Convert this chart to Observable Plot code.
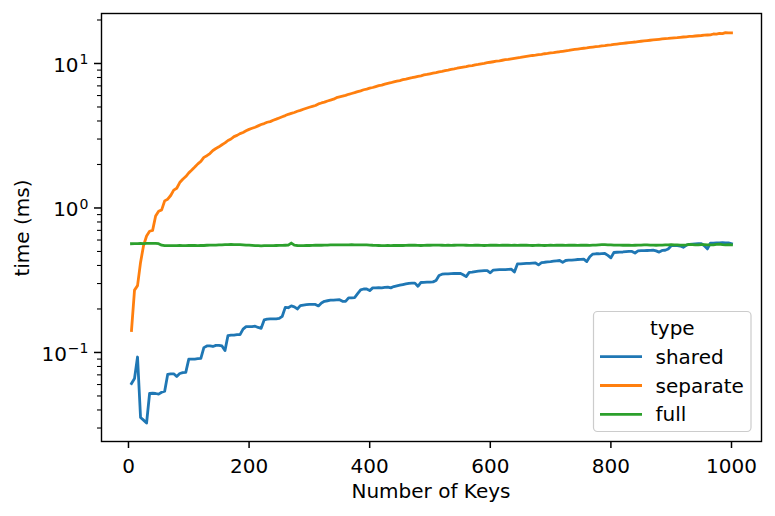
<!DOCTYPE html>
<html><head><meta charset="utf-8">
<script src="https://cdn.jsdelivr.net/npm/d3@7"></script>
<script src="https://cdn.jsdelivr.net/npm/@observablehq/plot@0.6"></script>
<style>
body{margin:0;background:#fff;}
svg{font-family:"DejaVu Sans",sans-serif;}
</style></head><body><div id="chart"></div>
<script>
// Number of keys (sample grid 5..1000, step 5)
const keys = d3.range(5, 1001, 5);
const types = ["shared", "separate", "full"];
const colors = ["#1f77b4", "#ff7f0e", "#2ca02c"];
const xTicks = [0, 200, 400, 600, 800, 1000];
const yMajor = [0.1, 1, 10];
const yMinor = [0.03,0.04,0.05,0.06,0.07,0.08,0.09,0.2,0.3,0.4,0.5,0.6,0.7,0.8,0.9,2,3,4,5,6,7,8,9,20];
const yMajorLabels = ["10^\u22121", "10^0", "10^1"];

const shared = [
0.061,0.066,0.093,0.0355,0.034,0.0325,0.052,0.0522,0.052,0.0515,
0.053,0.054,0.0705,0.0712,0.0712,0.0682,0.0715,0.0725,0.0728,0.0899,
0.090,0.090,0.0905,0.091,0.108,0.111,0.111,0.110,0.112,0.112,
0.111,0.103,0.131,0.132,0.132,0.133,0.133,0.145,0.151,0.151,
0.151,0.152,0.149,0.147,0.168,0.170,0.171,0.171,0.171,0.172,
0.178,0.205,0.204,0.210,0.207,0.200,0.211,0.213,0.214,0.215,
0.215,0.215,0.210,0.220,0.226,0.228,0.230,0.230,0.231,0.232,
0.226,0.226,0.239,0.239,0.240,0.255,0.271,0.275,0.275,0.268,
0.280,0.280,0.281,0.280,0.282,0.283,0.280,0.286,0.289,0.292,
0.295,0.298,0.301,0.302,0.302,0.287,0.305,0.306,0.307,0.307,
0.308,0.315,0.341,0.348,0.350,0.350,0.351,0.352,0.352,0.353,
0.345,0.335,0.358,0.360,0.363,0.365,0.367,0.368,0.369,0.356,
0.372,0.373,0.374,0.374,0.375,0.376,0.377,0.360,0.410,0.411,
0.412,0.413,0.414,0.415,0.416,0.404,0.418,0.421,0.423,0.425,
0.428,0.431,0.433,0.420,0.433,0.435,0.436,0.438,0.440,0.441,
0.442,0.426,0.460,0.480,0.482,0.482,0.483,0.484,0.470,0.452,
0.492,0.494,0.495,0.496,0.498,0.500,0.500,0.488,0.505,0.506,
0.507,0.508,0.509,0.510,0.505,0.495,0.508,0.510,0.520,0.548,
0.550,0.548,0.545,0.535,0.552,0.560,0.563,0.565,0.566,0.566,
0.548,0.521,0.570,0.572,0.574,0.573,0.576,0.574,0.573,0.565
];

const separate = [
0.142,0.27,0.29,0.42,0.55,0.64,0.69,0.70,0.88,0.95,
0.97,1.12,1.15,1.22,1.33,1.37,1.50,1.58,1.65,1.75,
1.83,1.92,2.02,2.10,2.24,2.30,2.38,2.50,2.58,2.65,
2.74,2.82,2.93,3.00,3.12,3.18,3.27,3.33,3.42,3.50,
3.56,3.62,3.70,3.78,3.84,3.92,3.96,4.05,4.12,4.20,
4.28,4.36,4.45,4.52,4.58,4.67,4.74,4.82,4.90,4.98,
5.05,5.12,5.25,5.33,5.40,5.50,5.58,5.66,5.80,5.88,
5.95,6.02,6.12,6.20,6.28,6.38,6.47,6.58,6.65,6.75,
6.82,6.92,7.02,7.08,7.20,7.28,7.36,7.46,7.55,7.62,
7.72,7.80,7.90,7.97,8.06,8.15,8.22,8.33,8.40,8.49,
8.58,8.66,8.76,8.82,8.92,9.00,9.10,9.17,9.27,9.35,
9.44,9.50,9.61,9.68,9.78,9.85,9.95,10.02,10.12,10.20,
10.28,10.37,10.44,10.53,10.62,10.68,10.78,10.86,10.95,11.02,
11.12,11.20,11.28,11.36,11.42,11.52,11.58,11.68,11.74,11.84,
11.90,12.00,12.06,12.15,12.24,12.32,12.42,12.50,12.58,12.66,
12.75,12.82,12.92,13.00,13.08,13.15,13.24,13.30,13.40,13.46,
13.55,13.62,13.70,13.78,13.86,13.94,14.02,14.08,14.18,14.25,
14.32,14.40,14.48,14.55,14.62,14.70,14.78,14.85,14.90,14.98,
15.05,15.10,15.18,15.25,15.30,15.38,15.42,15.50,15.56,15.62,
15.70,15.75,15.80,16.00,15.95,16.15,16.10,16.35,16.30,16.30
];

const full = [
0.566,0.567,0.566,0.568,0.567,0.568,0.569,0.568,0.569,0.566,
0.553,0.549,0.548,0.549,0.548,0.549,0.550,0.549,0.549,0.550,
0.551,0.550,0.549,0.551,0.550,0.552,0.553,0.554,0.553,0.555,
0.556,0.557,0.558,0.559,0.558,0.557,0.558,0.556,0.554,0.553,
0.551,0.549,0.548,0.547,0.548,0.549,0.548,0.549,0.550,0.551,
0.551,0.552,0.553,0.572,0.553,0.550,0.549,0.549,0.550,0.550,
0.551,0.552,0.553,0.552,0.553,0.554,0.555,0.555,0.556,0.555,
0.556,0.555,0.556,0.557,0.556,0.556,0.555,0.556,0.555,0.554,
0.552,0.551,0.550,0.549,0.549,0.550,0.549,0.550,0.551,0.550,
0.550,0.551,0.552,0.553,0.552,0.551,0.550,0.551,0.552,0.552,
0.553,0.554,0.553,0.552,0.551,0.552,0.551,0.552,0.553,0.554,
0.553,0.552,0.551,0.551,0.552,0.552,0.551,0.550,0.551,0.552,
0.553,0.552,0.551,0.552,0.553,0.552,0.551,0.552,0.551,0.552,
0.553,0.552,0.551,0.550,0.551,0.552,0.551,0.550,0.551,0.552,
0.551,0.552,0.553,0.552,0.551,0.552,0.553,0.552,0.551,0.552,
0.553,0.552,0.551,0.553,0.554,0.556,0.558,0.557,0.556,0.555,
0.553,0.554,0.553,0.552,0.553,0.552,0.551,0.552,0.553,0.554,
0.555,0.556,0.554,0.553,0.552,0.553,0.554,0.555,0.556,0.558,
0.556,0.555,0.554,0.553,0.556,0.560,0.558,0.555,0.556,0.557,
0.558,0.556,0.555,0.556,0.560,0.562,0.558,0.556,0.557,0.556
];

const seriesValues = {shared, separate, full};
const data = types.flatMap(t => keys.map((k, i) => ({key: k, time: seriesValues[t][i], type: t})));

const FS = 20;
const svg = Plot.plot({
  width: 775, height: 516,
  marginLeft: 101, marginRight: 14, marginTop: 13, marginBottom: 75,
  style: {fontFamily: "DejaVu Sans, sans-serif", fontSize: FS + "px", color: "black", background: "white", overflow: "visible"},
  x: {domain: [-44.75, 1049.75]},
  y: {type: "log", domain: [0.0242, 22.18]},
  color: {domain: types, range: colors},
  marks: [
    Plot.lineY(data, {x: "key", y: "time", stroke: "type", z: "type", strokeWidth: 2.8, strokeLinejoin: "round", strokeLinecap: "square"}),
    Plot.axisX({ticks: xTicks, tickSize: 7, tickPadding: 10, tickFormat: d => String(d), label: null, strokeWidth: 1.5, fill: "black"}),
    Plot.axisY({ticks: yMajor, tickSize: 7, tickPadding: 6, tickFormat: d => yMajorLabels[yMajor.indexOf(d)], label: null, strokeWidth: 1.5, fill: "black"}),
    Plot.axisY({ticks: yMinor, tickSize: 4, tickFormat: () => "", label: null, strokeWidth: 1.1}),
    Plot.frame({stroke: "black", strokeWidth: 1.4})
  ]
});

const s = d3.select(svg);
// superscripts on the log tick labels
s.selectAll("g").filter(function(){ return (this.getAttribute("aria-label")||"").includes("y-axis tick label"); })
 .selectAll("text").each(function(){
   const t = this.textContent;
   const parts = t.split("^");
   if (parts.length === 2) {
     const el = d3.select(this);
     el.text(null);
     el.append("tspan").attr("dy", "2").text(parts[0]);
     el.append("tspan").attr("font-size", "0.7em").attr("dy", "-0.55em").attr("dx", "1").text(parts[1]);
   }
 });

// axis titles
s.append("text").attr("x", 431).attr("y", 498).attr("text-anchor", "middle")
  .attr("font-size", FS).attr("fill", "black").text("Number of Keys");
s.append("text").attr("transform", "translate(29,228) rotate(-90)").attr("text-anchor", "middle")
  .attr("font-size", FS).attr("fill", "black").text("time (ms)");

// legend
const lg = s.append("g");
lg.append("rect").attr("x", 593.5).attr("y", 311.5).attr("width", 157.5).attr("height", 120)
  .attr("rx", 4).attr("fill", "white").attr("fill-opacity", 0.8).attr("stroke", "#cccccc").attr("stroke-width", 1.2);
lg.append("text").attr("x", 672.3).attr("y", 335).attr("text-anchor", "middle").attr("font-size", FS).attr("fill", "black").text("type");
types.forEach((t, i) => {
  const y = 356.7 + i * 28.8;
  lg.append("line").attr("x1", 600).attr("x2", 642).attr("y1", y).attr("y2", y)
    .attr("stroke", colors[i]).attr("stroke-width", 2.8);
  lg.append("text").attr("x", 655.5).attr("y", y + 7).attr("text-anchor", "start")
    .attr("font-size", FS).attr("fill", "black").text(t);
});

document.getElementById("chart").appendChild(svg);
</script>
</body></html>
